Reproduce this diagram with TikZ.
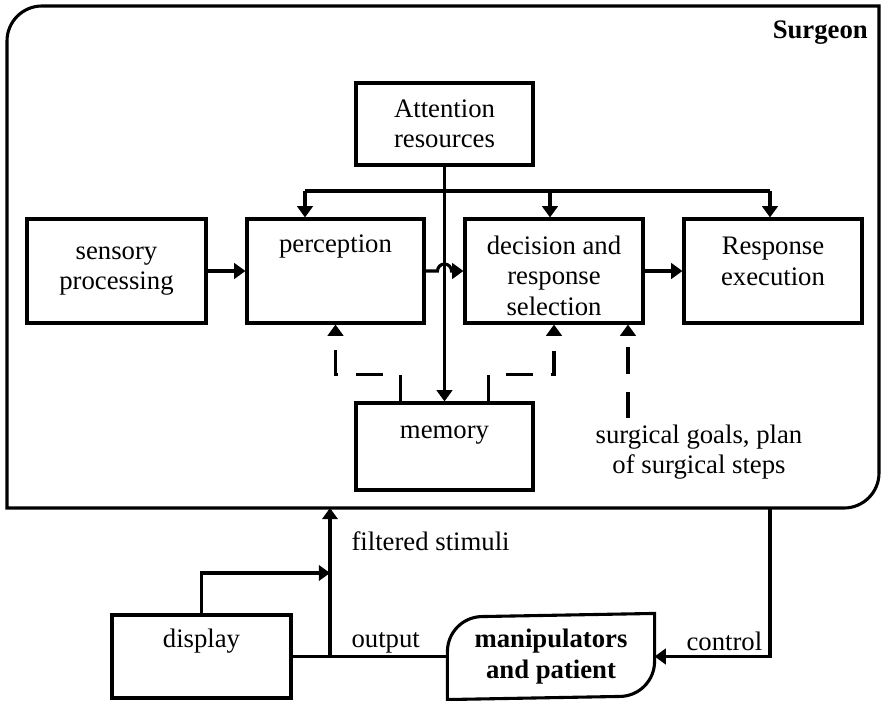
\documentclass[tikz,border=0pt]{standalone}
\usepackage{fontspec}
\setmainfont{Liberation Serif}
\usetikzlibrary{arrows.meta,calc}
\tikzset{>={Triangle[length=8pt,width=11pt]},
every picture/.append style={
    line join=miter,
    line width=2.2pt
  },
blk/.style={draw,inner sep=0pt,align=center},
memlink/.style={dash pattern=on 19pt off 12.8pt},
lbl/.style={inner sep=0pt,anchor=west}}

\begin{document}
\begin{tikzpicture}[x=0.025cm,y=-0.025cm,font=\fontsize{19}{21.5}\selectfont]
        \useasboundingbox (0,0) rectangle (883,701);
        % surgeon frame
        \coordinate (sw) at (7,508);
        \coordinate (ne) at (879,6);
        \draw (sw) -- (7,41) arc (180:90:0.875cm) -- (ne) -- (879,473) arc (0:-90:0.875cm) -- cycle;
        \node [anchor=east] (surg) at (874,33) {\bfseries Surgeon};
        % boxes
        \node [blk,minimum width=4.425cm,minimum height=2.05cm] (attn) at (444.5,124) {Attention\\resources};
        \node [blk,minimum width=4.475cm,minimum height=2.6cm] (sens) at (116.5,271) {sensory\\processing};
        \node [blk,minimum width=4.425cm,minimum height=2.6cm,text height=13pt,text depth=40pt] (perc) at (335.5,271) {perception};
        \node [blk,minimum width=4.45cm,minimum height=2.6cm,text height=63pt,text depth=0.2pt] (dec) at (554,271) {decision and\\response\\selection};
        \node [blk,minimum width=4.45cm,minimum height=2.6cm,text height=34pt,text depth=14pt] (resp) at (773,271) {Response\\execution};
        \node [blk,minimum width=4.425cm,minimum height=2.175cm,text height=13pt,text depth=25pt] (mem) at (444.5,446.5) {memory};
        \node [align=center] (goals) at (699,452) {surgical goals, plan\\of surgical steps};
        % attention bus
        \coordinate (busl) at (305,191);
        \coordinate (busr) at (770,191);
        \draw (busl) -- (busr);
        \draw [->] (busl) -- (busl |- perc.north);
        \draw [->] ([xshift=-0.1cm]dec.north |- busl) -- ([xshift=-0.1cm]dec.north);
        \draw [->] (busr) -- (busr |- resp.north);
        \draw [->] (attn) -- (mem);
        % main chain
        \path [->] (sens) edge (perc);
        \coordinate (hop) at (attn.south |- perc.east);
        \draw [->] (perc.east) -- ([xshift=-0.175cm]hop) arc (180:0:0.175cm) -- (dec.west);
        \path [->] (dec) edge (resp);
        % memory links
        \draw [memlink,->] ([xshift=-1.1cm]mem.north) -- ++(0,-27) -| (perc.south);
        \draw [memlink,->] ([xshift=1.1cm]mem.north) -- ++(0,-27) -| (dec.south);
        \draw [memlink,->] ([xshift=-1.775cm]goals.north) -- ([xshift=-1.775cm]goals.north |- dec.south);
        % outside
        \node [blk,minimum width=4.475cm,minimum height=2.075cm,text height=13pt,text depth=26.5pt] (disp) at (201.5,656.5) {display};
        \node [minimum width=5.1cm,minimum height=2.075cm,inner sep=0pt,align=center,font=\fontsize{19}{21.5}\selectfont\bfseries] (manip) at (551,656.5) {manipulators\\and patient};
        \draw (manip.south west) -- ++(0,-48) arc (180:90:0.875cm) -- (manip.north east) -- ++(0,48) arc (0:-90:0.875cm) -- cycle;
        \coordinate (split) at (330,656.5);
        \coordinate (tap) at (330,573);
        \coordinate (ctl) at (770,508);
        \draw (disp.east) -- (manip.west);
        \draw [->] (split) -- (split |- sw);
        \draw [->] (disp.north) |- (tap);
        \draw [->] (ctl) |- (manip.east);
        \node [lbl] (filt) at (350,541) {filtered stimuli};
        \node [lbl] (outp) at (350,643) {output};
        \node [lbl] (ctrl) at (685,641) {control};
    \end{tikzpicture}
\end{document}
